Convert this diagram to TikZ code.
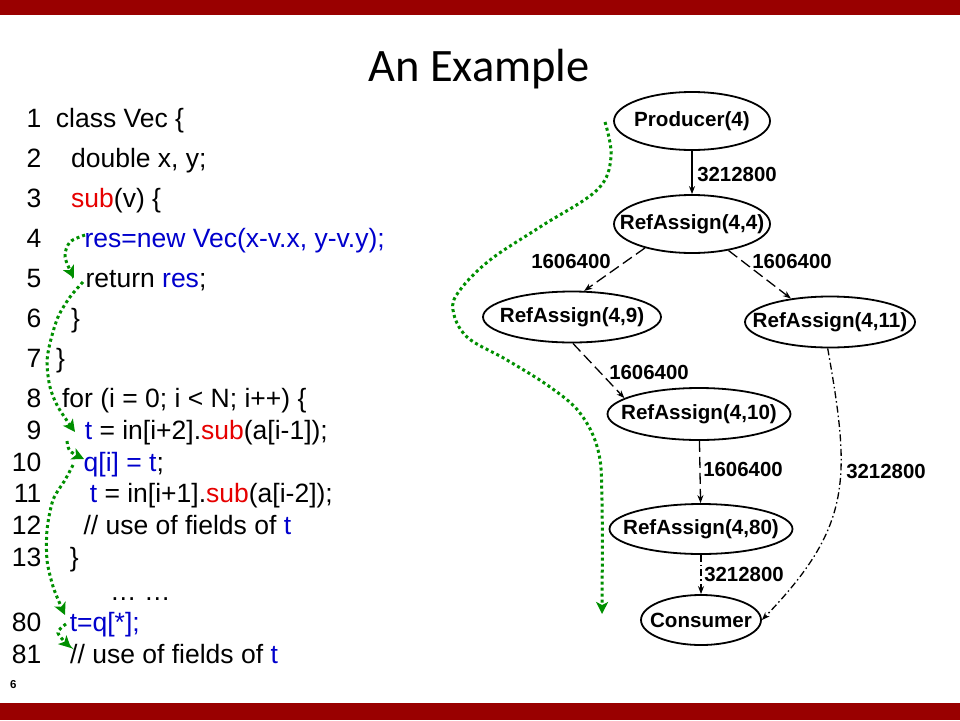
\documentclass[tikz,border=0pt]{standalone}
\usepackage{fontspec}
\setmainfont{Liberation Sans}
\newfontfamily\titlefont{Carlito}
\usetikzlibrary{shapes.geometric,arrows.meta}
\definecolor{barred}{HTML}{990000}
\definecolor{cblue}{HTML}{0000CC}
\definecolor{cred}{HTML}{E60000}
\definecolor{pathgreen}{HTML}{008F00}
\begin{document}
\begin{tikzpicture}[x=1pt,y=-1pt,
  codeline/.style={anchor=base west, inner sep=0pt, font=\fontsize{26.5}{30}\selectfont},
  lnum/.style={anchor=base east, inner sep=0pt, font=\fontsize{26.5}{30}\selectfont},
  gnode/.style={ellipse, draw, line width=1.8pt, inner sep=0pt},
  gtext/.style={inner sep=0pt, font=\bfseries\fontsize{20.6}{24}\selectfont},
  glabel/.style={inner sep=0pt, font=\bfseries\fontsize{20.4}{24}\selectfont},
  gedge/.style={line width=1.3pt, -{Stealth[length=8pt,width=6pt]}},
  dashA/.style={dash pattern=on 11pt off 5pt},
  dashdotted/.style={dash pattern=on 7pt off 3pt on 1.5pt off 3pt},
  greenpath/.style={pathgreen, line width=3pt, dash pattern=on 3pt off 3pt,
    -{Stealth[length=12pt,width=12pt,inset=3pt]}}
]
\useasboundingbox (0,0) rectangle (960,720);
\fill[barred] (0,0) rectangle (960,15);
\fill[barred] (0,703) rectangle (960,720);

\node[font=\titlefont\fontsize{46.5}{50}\selectfont, anchor=base, inner sep=0pt] (title) at (479,81) {An Example};

% line numbers
\foreach \n/\yy in {1/127,2/167,3/207,4/247,5/287,6/327,7/367,8/407,9/439,10/471,11/502,12/534,13/566,80/631,81/663}
  \node[lnum] (n\n) at (41.5,\yy) {\n};

% code
\node[codeline] (c1) at (55.7,127) {class Vec \{};
\node[codeline] (c2) at (70.9,167) {double x, y;};
\node[codeline] (c3) at (71,207) {\textcolor{cred}{sub}(v) \{};
\node[codeline] (c4) at (84.4,247) {\textcolor{cblue}{res=new Vec(x-v.x, y-v.y);}};
\node[codeline] (c5) at (85.4,287) {return \textcolor{cblue}{res};};
\node[codeline] (c6) at (71,327) {\}};
\node[codeline] (c7) at (56,367) {\}};
\node[codeline] (c8) at (61.8,407) {for (i = 0; i < N; i++) \{};
\node[codeline] (c9) at (84.6,439) {\textcolor{cblue}{t} = in[i+2].\textcolor{cred}{sub}(a[i-1]);};
\node[codeline] (c10) at (83.5,471) {\textcolor{cblue}{q[i] = t};};
\node[codeline] (c11) at (89.6,502) {\textcolor{cblue}{t} = in[i+1].\textcolor{cred}{sub}(a[i-2]);};
\node[codeline] (c12) at (83.3,534) {// use of fields of \textcolor{cblue}{t}};
\node[codeline] (c13) at (69.7,566) {\}};
\node[codeline] (dots) at (110,600) {… …};
\node[codeline] (c80) at (69.6,631) {\textcolor{cblue}{t=q[*];}};
\node[codeline] (c81) at (70,663) {// use of fields of \textcolor{cblue}{t}};

\node[anchor=base west, inner sep=0pt, font=\bfseries\fontsize{11.5}{12}\selectfont] (pagenum) at (10,688) {6};

% graph nodes
\node[gnode, minimum width=156pt, minimum height=58pt, label={[gtext]center:{Producer(4)}}] (P) at (692,121) {};
\node[gnode, minimum width=156pt, minimum height=58pt, label={[gtext]center:{RefAssign(4,4)}}] (R44) at (692,224) {};
\node[gnode, minimum width=178pt, minimum height=51pt, label={[gtext]center:{RefAssign(4,9)}}] (R49) at (572,317) {};
\node[gnode, minimum width=170pt, minimum height=51pt, label={[gtext]center:{RefAssign(4,11)}}] (R411) at (830,322) {};
\node[gnode, minimum width=183pt, minimum height=52pt, label={[gtext]center:{RefAssign(4,10)}}] (R410) at (699,414) {};
\node[gnode, minimum width=183pt, minimum height=50pt, label={[gtext]center:{RefAssign(4,80)}}] (R480) at (701,529) {};
\node[gnode, minimum width=120pt, minimum height=50pt, label={[gtext]center:{Consumer}}] (C) at (701,620) {};

% graph edges
\draw[gedge] (P) -- (R44);
\draw[gedge, dashA] (R44.207) -- (R49.65);
\draw[gedge, dashA] (R44.-36) -- (R411.149);
\draw[gedge, dashA] (R49.-88) -- (R410.168);
\draw[gedge, dashA] (R410) -- (R480);
\draw[gedge, dashdotted] (R480) -- (C);
\draw[gedge, dashdotted] (R411.265) to[out=-80,in=46,looseness=1.2] (C.east);

% edge labels
\node[glabel] (l1) at (737,174) {3212800};
\node[glabel] (l2) at (571,261) {1606400};
\node[glabel] (l3) at (792,261) {1606400};
\node[glabel] (l4) at (649,372) {1606400};
\node[glabel] (l5) at (743,469) {1606400};
\node[glabel] (l6) at (744,574) {3212800};
\node[glabel] (l7) at (886,471) {3212800};

% green flow paths
\draw[greenpath] plot[smooth, tension=0.6] coordinates {(605,122) (611,157) (597,190) (540,227) (490,260) (460,290) (453,310) (467,337) (507,360) (550,387) (580,413) (598,450) (602,500) (602,614)};
\draw[greenpath] plot[smooth] coordinates {(85,235) (70,242) (65,257) (74,278)};
\draw[greenpath] plot[smooth] coordinates {(83,282) (70,297) (58,317) (50,343) (47,363) (50,387) (58,407) (75,432)};
\draw[greenpath] plot[smooth] coordinates {(67,441) (70,451) (84,459)};
\draw[greenpath] plot[smooth] coordinates {(73,465) (65,480) (53,500) (47,530) (47,560) (52,583) (57,597) (65,615)};
\draw[greenpath] plot[smooth] coordinates {(66,624) (58,633) (71,648)};
\end{tikzpicture}
\end{document}
